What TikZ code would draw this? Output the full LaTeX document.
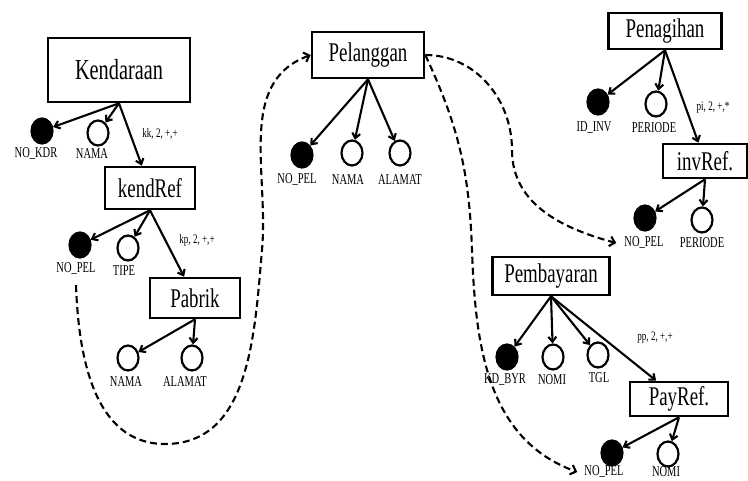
\documentclass[tikz,border=0pt]{standalone}
\usepackage{fontspec}
\setmainfont{Liberation Serif}[FakeStretch=0.7]
\usetikzlibrary{arrows.meta,shapes.geometric}

\begin{document}
\begin{tikzpicture}[x=1pt,y=1pt,
  entity/.style={draw, line width=2.6pt, inner sep=0pt, font=\fontsize{27}{27}\selectfont},
  keyattr/.style={ellipse, draw, fill=black, line width=2.2pt, minimum width=21, minimum height=25, inner sep=0pt},
  plainattr/.style={ellipse, draw, line width=2.2pt, minimum width=21, minimum height=25, inner sep=0pt},
  attrname/.style={font=\fontsize{15}{15}\selectfont, inner sep=0pt},
  relname/.style={font=\fontsize{13}{13}\selectfont, inner sep=0pt},
  link/.style={line width=2.1pt, -{Straight Barb[length=5pt,width=8pt]}},
  refline/.style={line width=2.1pt, dash pattern=on 7pt off 4pt, -{Straight Barb[length=5pt,width=10pt]}}
]
\useasboundingbox (0,0) rectangle (748,-481);

% ---------- Kendaraan ----------
\node[entity, minimum width=142, minimum height=64, font=\fontsize{29}{29}\selectfont] (kend) at (119,-70) {Kendaraan};
\node[keyattr]   (nokdr) at (42,-131) {};
\node[attrname]  (nokdrl) at (36,-154) {NO\_KDR};
\node[plainattr] (nama1) at (98,-133) {};
\node[attrname]  (nama1l) at (92,-154) {NAMA};
\node[relname]   (kk) at (160,-134) {kk, 2, +,+};

% ---------- kendRef ----------
\node[entity, minimum width=90, minimum height=42] (kendref) at (150,-188) {kendRef};
\node[keyattr]   (nopel1) at (80,-245) {};
\node[attrname]  (nopel1l) at (76,-269) {NO\_PEL};
\node[plainattr] (tipe) at (128,-248) {};
\node[attrname]  (tipel) at (124,-271) {TIPE};
\node[relname]   (kp) at (197,-240) {kp, 2, +,+};

% ---------- Pabrik ----------
\node[entity, minimum width=90, minimum height=40] (pabrik) at (195,-298) {Pabrik};
\node[plainattr] (nama2) at (128,-358) {};
\node[attrname]  (nama2l) at (126,-382) {NAMA};
\node[plainattr] (alamat2) at (192,-358) {};
\node[attrname]  (alamat2l) at (185,-382) {ALAMAT};

% ---------- Pelanggan ----------
\node[entity, minimum width=112, minimum height=46] (pel) at (368,-55) {Pelanggan};
\node[keyattr]   (nopel2) at (302,-155) {};
\node[attrname]  (nopel2l) at (297,-180) {NO\_PEL};
\node[plainattr] (nama3) at (352,-153) {};
\node[attrname]  (nama3l) at (348,-180) {NAMA};
\node[plainattr] (alamat3) at (400,-153) {};
\node[attrname]  (alamat3l) at (400,-180) {ALAMAT};

% ---------- Penagihan ----------
\node[entity, minimum width=113, minimum height=36] (pen) at (665,-31) {Penagihan};
\node[keyattr]   (idinv) at (598,-102) {};
\node[attrname]  (idinvl) at (594,-128) {ID\_INV};
\node[plainattr] (periode1) at (656,-104) {};
\node[attrname]  (periode1l) at (654,-128) {PERIODE};
\node[relname]   (pi) at (713,-108) {pi, 2, +,*};

% ---------- invRef. ----------
\node[entity, minimum width=84, minimum height=34] (invref) at (705,-161) {invRef.};
\node[keyattr]   (nopel3) at (645,-218) {};
\node[attrname]  (nopel3l) at (644,-243) {NO\_PEL};
\node[plainattr] (periode2) at (702,-220) {};
\node[attrname]  (periode2l) at (702,-243) {PERIODE};

% ---------- Pembayaran ----------
\node[entity, minimum width=117, minimum height=38] (bayar) at (551,-276) {Pembayaran};
\node[keyattr]   (kdbyr) at (507,-357) {};
\node[attrname]  (kdbyrl) at (505,-380) {KD\_BYR};
\node[plainattr] (nomi1) at (553,-357) {};
\node[attrname]  (nomi1l) at (552,-380) {NOMI};
\node[plainattr] (tgl) at (598,-355) {};
\node[attrname]  (tgll) at (599,-378) {TGL};
\node[relname]   (pp) at (655,-338) {pp, 2, +,+};

% ---------- PayRef. ----------
\node[entity, minimum width=98, minimum height=34] (payref) at (679,-399) {PayRef.};
\node[keyattr]   (nopel4) at (612,-453) {};
\node[attrname]  (nopel4l) at (604,-472) {NO\_PEL};
\node[plainattr] (nomi2) at (668,-454) {};
\node[attrname]  (nomi2l) at (666,-472) {NOMI};

% ---------- attribute and nesting links ----------
\foreach \src/\dst in {kend/nokdr, kend/nama1, kend/kendref,
                       kendref/nopel1, kendref/tipe, kendref/pabrik,
                       pabrik/nama2, pabrik/alamat2,
                       pel/nopel2, pel/nama3, pel/alamat3,
                       pen/idinv, pen/periode1, pen/invref,
                       invref/nopel3, invref/periode2,
                       bayar/kdbyr, bayar/nomi1, bayar/tgl, bayar/payref,
                       payref/nopel4, payref/nomi2}
  \draw[link] (\src.south) -- (\dst);

% ---------- reference links ----------
\coordinate (ref1start) at ([yshift=-10pt]nopel1l.south);
\coordinate (inv3tip) at ([xshift=-8pt]nopel3l.west);
\coordinate (pay4tip) at ([xshift=-7pt]nopel4l.west);

\draw[refline] (ref1start) to[out=-88,in=180] (165,-444)
               to[out=0,in=-95] (262,-250)
               to[out=85,in=200] (pel.west);
\draw[refline] (pel.east) to[out=0,in=90] (512,-150)
               to[out=-90,in=165] (inv3tip);
\draw[refline] (pel.east) to[out=-65,in=92] (472,-250)
               to[out=-88,in=160] (pay4tip);
\end{tikzpicture}
\end{document}
